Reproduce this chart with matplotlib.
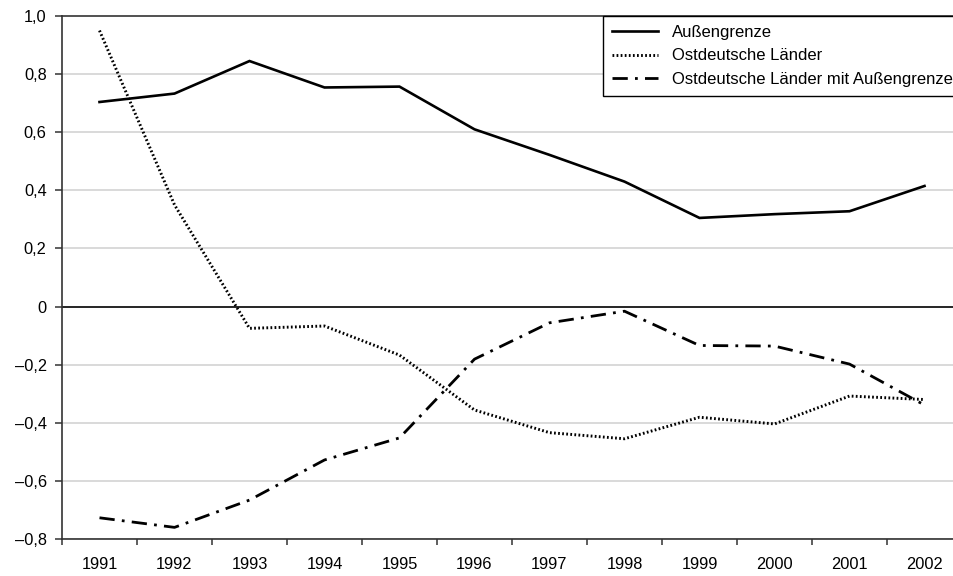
import matplotlib.pyplot as plt
import numpy as np
from matplotlib.ticker import FixedLocator, FuncFormatter

plt.rcParams['font.family'] = ['Liberation Sans', 'DejaVu Sans']

years = ["1991", "1992", "1993", "1994", "1995", "1996",
         "1997", "1998", "1999", "2000", "2001", "2002"]
aussengrenze = [0.704, 0.733, 0.845, 0.754, 0.757, 0.610,
                0.522, 0.430, 0.305, 0.318, 0.328, 0.415]
ostdeutsch = [0.950, 0.350, -0.075, -0.067, -0.167, -0.356,
              -0.434, -0.455, -0.381, -0.404, -0.308, -0.320]
ost_mit_grenze = [-0.727, -0.760, -0.666, -0.528, -0.452, -0.181,
                  -0.056, -0.016, -0.134, -0.136, -0.198, -0.339]
labels = ["Außengrenze", "Ostdeutsche Länder", "Ostdeutsche Länder mit Außengrenze"]

W, H = 954, 576
fig = plt.figure(figsize=(W / 100, H / 100), dpi=100)
# the axes run a little past the right edge of the picture, as in the original
ax = fig.add_axes([62 / W, (H - 539) / H, (962 - 62) / W, (539 - 16) / H])

x = np.arange(len(years))
ax.plot(x, aussengrenze, color="black", lw=1.9, solid_joinstyle="miter", label=labels[0], zorder=3)
ax.plot(x, ostdeutsch, color="black", lw=2.1, linestyle=(0, (0.6, 0.8)), label=labels[1], zorder=3)
ax.plot(x, ost_mit_grenze, color="black", lw=2.0, linestyle=(0, (5.5, 2.6, 1.0, 2.6)),
        label=labels[2], zorder=3)

ax.set_xlim(-0.5, len(years) - 0.5)
ax.set_ylim(-0.8, 1.0)

yt = np.round(np.arange(-0.8, 1.01, 0.2), 1)
ax.yaxis.set_major_locator(FixedLocator(yt))
ax.yaxis.set_major_formatter(FuncFormatter(
    lambda v, p: "0" if abs(v) < 1e-9 else f"{v:.1f}".replace(".", ",").replace("-", "–")))
for v in yt:
    if abs(v) < 1e-9:
        ax.axhline(v, color="black", lw=1.2, zorder=2)
    elif v < 0.99:
        ax.axhline(v, color="#d3d3d3", lw=1.2, zorder=1)

# ticks on the category borders, labels in the middle
ax.xaxis.set_major_locator(FixedLocator(np.arange(-0.5, len(years), 1.0)))
ax.xaxis.set_major_formatter(FuncFormatter(lambda v, p: ""))
ax.xaxis.set_minor_locator(FixedLocator(x))
ax.set_xticklabels(years, minor=True)
ax.tick_params(axis="x", which="major", length=4.5, width=1.1, color="#333333")
ax.tick_params(axis="x", which="minor", length=0, pad=13, labelsize=11.8)
ax.tick_params(axis="y", length=5, width=1.1, color="#333333", pad=6, labelsize=11.8)

for s in ["left", "bottom", "top"]:
    ax.spines[s].set_color("#333333")
    ax.spines[s].set_linewidth(1.2)
ax.spines["right"].set_visible(False)

leg = ax.legend(loc="upper right", bbox_to_anchor=(1.0, 1.0), borderaxespad=0,
                frameon=True, fancybox=False, edgecolor="black", fontsize=12,
                handlelength=2.75, handletextpad=0.84, labelspacing=0.5,
                borderpad=0.55)
leg.get_frame().set_linewidth(1.0)
leg.get_frame().set_alpha(1.0)

fig.savefig("out.png", dpi=100)
